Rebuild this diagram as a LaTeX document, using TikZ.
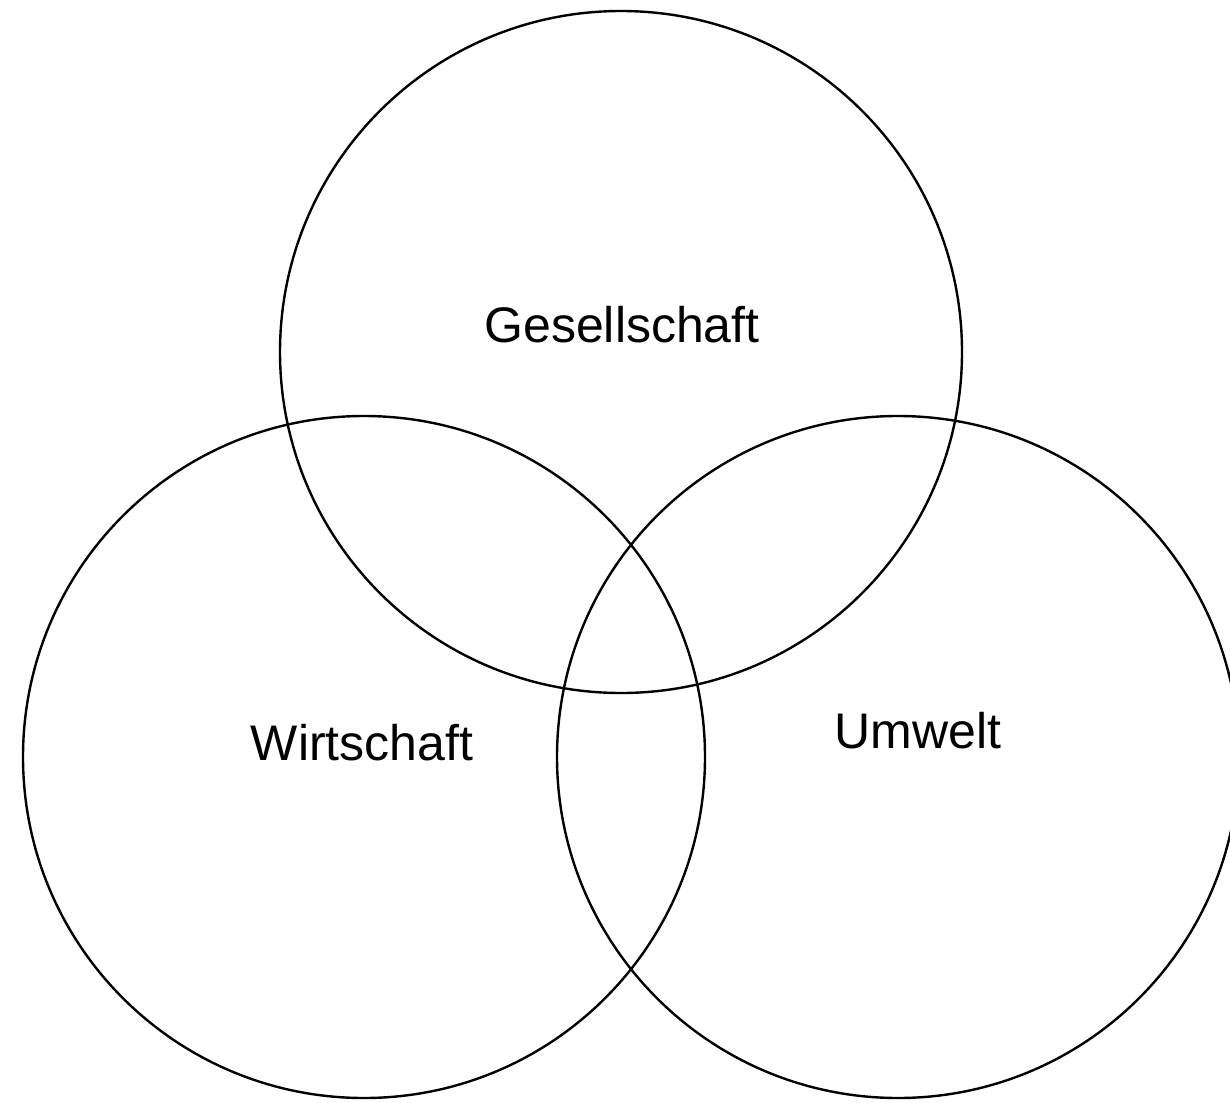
\documentclass[tikz,border=0pt]{standalone}
\usepackage{fontspec}
\setmainfont{Liberation Sans}
\begin{document}
\begin{tikzpicture}[x=0.5pt,y=-0.5pt,
  ring/.style={draw=black,line width=1.2pt},
  lbl/.style={font=\fontsize{25}{30}\selectfont,inner sep=0pt,anchor=base}]
\useasboundingbox (0,0) rectangle (1230,1102);
\draw[ring] (621,352) circle[radius=341];
\draw[ring] (364,757) circle[radius=341];
\draw[ring] (898,757) circle[radius=341];
\node[lbl] (g) at (622,342) {Gesellschaft};
\node[lbl] (w) at (362,760) {Wirtschaft};
\node[lbl] (u) at (918,748) {Umwelt};
\end{tikzpicture}
\end{document}
